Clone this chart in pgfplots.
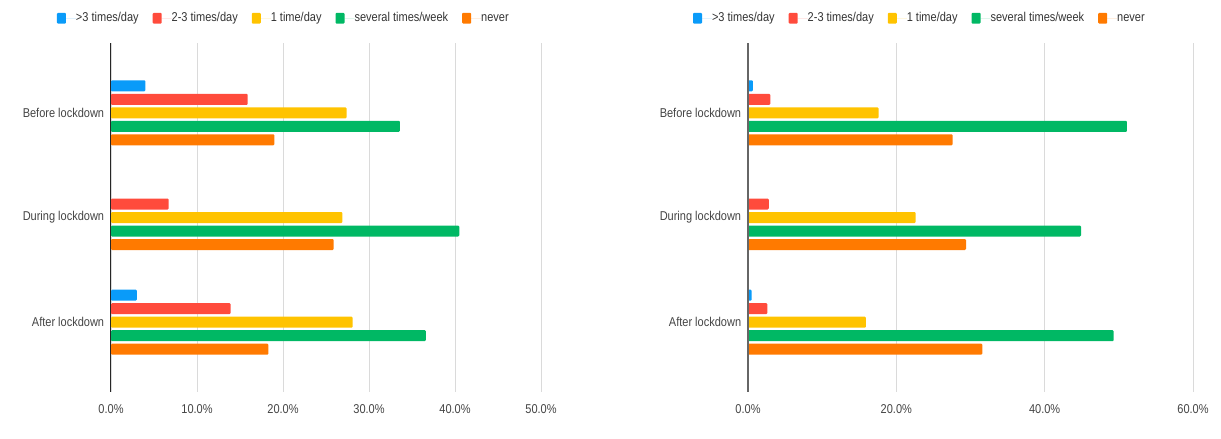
\documentclass[border=0pt]{standalone}
\usepackage{fontspec}
\setmainfont{Liberation Sans}[FakeStretch=0.86]
\usepackage{pgfplots}
\pgfplotsset{compat=1.18}
\definecolor{cBlue}{HTML}{0A9BF9}
\definecolor{cRed}{HTML}{FF4B3C}
\definecolor{cYellow}{HTML}{FFC300}
\definecolor{cGreen}{HTML}{00B864}
\definecolor{cOrange}{HTML}{FF7A00}
\definecolor{cGrid}{HTML}{DADADA}
\definecolor{cText}{HTML}{444444}
\newcommand{\gfont}{\fontsize{9.6}{11}\selectfont}
\pgfplotsset{
  gchart/.style={
    anchor=north west, scale only axis, clip=false,
    height=261.75pt,
    xbar=1.875pt, bar width=8.25pt,
    y dir=reverse, ymin=-0.667, ymax=2.667,
    ytick={0,1,2},
    yticklabels={Before lockdown,During lockdown,After lockdown},
    major tick length=0pt,
    axis line style={draw=none},
    xmajorgrids, grid style={cGrid, line width=0.6pt},
    tick label style={text=cText, font=\gfont},
    yticklabel style={xshift=-1.75pt},
    xticklabel style={yshift=-6.3pt},
    legend columns=5,
    legend cell align=left,
    legend style={draw=none, fill=none, inner sep=0pt, outer sep=0pt,
      font=\gfont, text=black!80,
      nodes={inner xsep=0pt, inner ysep=1pt, text height=0.7em, text depth=0.12em},
      /tikz/every even column/.append style={column sep=10.5pt}},
    legend image code/.code={
      \fill[##1, rounded corners=0.8pt] (0pt,-4.1pt) rectangle (6.75pt,4.1pt);
      \path (6.75pt,0pt) -- (14.25pt,0pt);
    },
    every axis plot/.append style={draw=none, rounded corners=0.8pt},
  },
  s1/.style={fill=cBlue, bar shift=20.25pt},
  s2/.style={fill=cRed, bar shift=10.125pt},
  s3/.style={fill=cYellow, bar shift=0pt},
  s4/.style={fill=cGreen, bar shift=-10.125pt},
  s5/.style={fill=cOrange, bar shift=-20.25pt},
}
\begin{document}
\gfont
\begin{tikzpicture}
\useasboundingbox (0,0) rectangle (915.75pt,-329.25pt);
% Left chart
\begin{axis}[gchart, at={(83.25pt,-32.25pt)}, width=322.5pt,
  xmin=0, xmax=50,
  xtick={0,10,20,30,40,50},
  xticklabels={0.0\%,10.0\%,20.0\%,30.0\%,40.0\%,50.0\%},
  legend style={at={(-0.1256,1.071)}, anchor=west}]
\addplot[s1] coordinates {(4.0,0) (3.0,2)};
\addplot[s2] coordinates {(15.9,0) (6.7,1) (13.9,2)};
\addplot[s3] coordinates {(27.4,0) (26.9,1) (28.1,2)};
\addplot[s4] coordinates {(33.6,0) (40.5,1) (36.6,2)};
\addplot[s5] coordinates {(19.0,0) (25.9,1) (18.3,2)};
\legend{>3 times/day,2-3 times/day,1 time/day,several times/week,never}
\draw[black!85, line width=0.75pt] (axis cs:0,-0.667) -- (axis cs:0,2.667);
\end{axis}
% Right chart
\begin{axis}[gchart, at={(561pt,-32.25pt)}, width=333.75pt,
  xmin=0, xmax=60,
  xtick={0,20,40,60},
  xticklabels={0.0\%,20.0\%,40.0\%,60.0\%},
  legend style={at={(-0.1236,1.071)}, anchor=west}]
\addplot[s1] coordinates {(0.67,0) (0.5,2)};
\addplot[s2] coordinates {(3.0,0) (2.8,1) (2.6,2)};
\addplot[s3] coordinates {(17.6,0) (22.6,1) (15.9,2)};
\addplot[s4] coordinates {(51.1,0) (44.9,1) (49.3,2)};
\addplot[s5] coordinates {(27.6,0) (29.4,1) (31.6,2)};
\legend{>3 times/day,2-3 times/day,1 time/day,several times/week,never}
\draw[black!60, line width=1pt] (axis cs:0,-0.667) -- (axis cs:0,2.667);
\end{axis}
\end{tikzpicture}
\end{document}
